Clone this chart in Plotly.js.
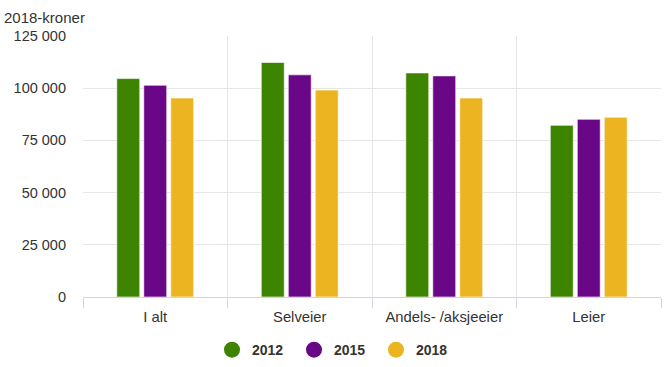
<!DOCTYPE html>
<html><head><meta charset="utf-8">
<script src="https://cdn.plot.ly/plotly-3.0.1.min.js"></script>
<style>body{margin:0;background:#fff}#c{width:670px;height:367px}</style>
</head><body><div id="c"></div>
<script>
const categories = ["I alt", "Selveier", "Andels- /aksjeeier", "Leier"];
const seriesNames = ["2012", "2015", "2018"];
const v2012 = [104600, 112300, 107300, 82200];
const v2015 = [101400, 106400, 105900, 85100];
const v2018 = [95300, 99100, 95300, 86100];
const yTicks = [0, 25000, 50000, 75000, 100000, 125000];
const colors = ["#3d8400", "#6a0787", "#ecb420"];
const values = [v2012, v2015, v2018];

const traces = [];
values.forEach((vals, i) => {
  traces.push({type: "bar", x: categories, y: vals, name: seriesNames[i], showlegend: false,
    marker: {color: colors[i], line: {color: "rgba(255,255,255,0.6)", width: 1}}, hoverinfo: "y"});
});
values.forEach((vals, i) => {
  traces.push({type: "scatter", mode: "markers", x: [null], y: [null], name: seriesNames[i],
    marker: {color: colors[i], size: 16, symbol: "circle"}});
});

const layout = {
  width: 670, height: 367,
  margin: {l: 83, r: 9, t: 36, b: 70},
  paper_bgcolor: "#fff", plot_bgcolor: "#fff",
  font: {family: "Liberation Sans, Arial, sans-serif", size: 14, color: "#333333"},
  separators: ", ",
  barmode: "group", bargap: 0.44, bargroupgap: 0.15,
  xaxis: {type: "category", tickson: "boundaries", showgrid: true, gridcolor: "#e6e6e6", gridwidth: 1,
    ticks: "outside", ticklen: 10, tickcolor: "#ccd6eb", tickwidth: 1, showline: true, linecolor: "#ccd6eb", linewidth: 1,
    ticklabelstandoff: 6, automargin: false,
    tickfont: {size: 14.8, color: "#333333"}, fixedrange: true},
  yaxis: {range: [0, 125000], tickvals: yTicks, tickformat: ",d", showgrid: true, gridcolor: "#e6e6e6",
    zeroline: false, showline: false, ticks: "", ticklabelstandoff: 16, automargin: false,
    tickfont: {size: 14.5, color: "#333333"}, fixedrange: true},
  legend: {orientation: "h", x: 0.5, xanchor: "center", xref: "container", yref: "container", y: 0.046, yanchor: "middle",
    font: {size: 14, color: "#333333", weight: "bold"}, entrywidth: 37, itemwidth: 30, bgcolor: "rgba(0,0,0,0)"},
  annotations: [{text: "2018-kroner", xref: "paper", yref: "paper", x: -0.14, xanchor: "left",
    y: 1, yanchor: "bottom", yshift: 8, showarrow: false, font: {size: 15, color: "#333333"}}]
};
Plotly.newPlot("c", traces, layout, {displayModeBar: false, staticPlot: true});
</script></body></html>
